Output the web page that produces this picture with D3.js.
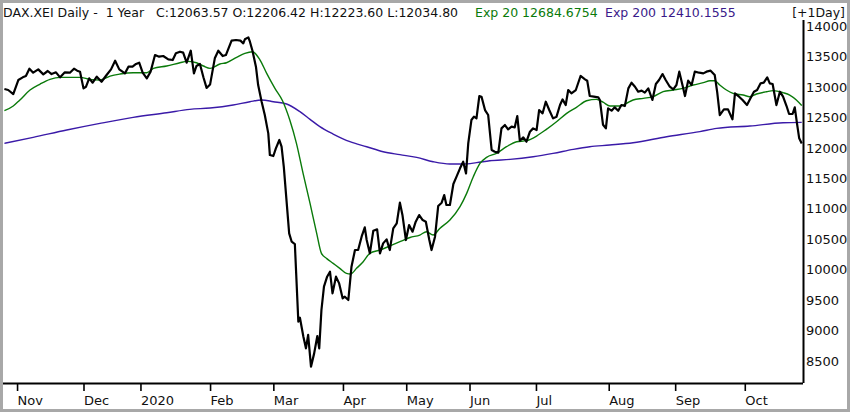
<!DOCTYPE html>
<html>
<head>
<meta charset="utf-8">
<script src="https://cdn.jsdelivr.net/npm/d3@7"></script>
<style>
  html, body { margin: 0; padding: 0; background: #fff; }
  text { font-family: "DejaVu Sans", Verdana, sans-serif; }
</style>
</head>
<body>
<div id="chart-container"></div>
<script>
// DAX daily, Oct 28 2019 - Oct 27 2020, x = trading day index

// close: [trading day, value]
const closeData = [
  [0,12957],[1.2,12941],[2.8,12875],[4.4,13105],[5.8,13149],[6.8,13170],[7.9,13291],[9.1,13225],
  [10.7,13280],[12.3,13198],[13.7,13253],[14.9,13203],[16.3,13231],[17.6,13149],[19.1,13231],[20.7,13225],
  [22,13291],[23,13258],[23.9,13242],[25,12968],[25.8,12995],[26.8,13132],[27.9,13061],[29.2,13160],
  [30.7,13077],[32.3,13187],[33.7,13280],[35,13422],[36.3,13280],[38.1,13214],[39.2,13324],[40.5,13324],
  [41.6,13368],[42.6,13389],[43.7,13225],[45,13132],[46.2,13242],[47.6,13515],[48.9,13488],[50.2,13499],
  [51.8,13444],[53.2,13433],[54.2,13543],[55.5,13570],[56.5,13554],[57.6,13389],[58.9,13586],[59.9,13214],
  [60.7,13335],[61.8,13368],[62.9,13150],[63.9,12975],[65,13030],[66.5,13461],[67.6,13586],[69,13499],
  [70,13515],[71.8,13751],[73.2,13762],[74.6,13751],[75.5,13707],[76,13773],[77.1,13805],[77.6,13734],
  [78.4,13586],[79.5,13324],[80.2,13023],[81.3,12749],[82.3,12530],[83.4,12229],[83.9,11873],[85,11857],
  [85.8,11983],[86.9,12120],[87.6,12010],[88.3,11682],[90,10587],[90.8,10450],[91.8,10412],[92.9,9137],
  [93.4,9203],[94.5,8891],[95.3,8700],[96,8920],[96.9,8398],[97.9,8617],[98.9,8902],[99.5,8699],
  [100.2,9329],[101,9712],[102,9876],[102.9,9958],[103.7,9602],[104.8,9876],[105.8,9766],[106.9,9520],
  [107.6,9547],[108.7,9493],[109.7,10040],[110.8,10314],[111.8,10314],[112.9,10533],[113.9,10686],[114.5,10478],
  [115.5,10259],[116.6,10631],[117.8,10653],[118.7,10259],[119.7,10423],[120.8,10489],[121.8,10314],[122.9,10669],
  [124,10751],[125,11091],[125.8,10890],[126.9,10478],[127.9,10724],[129,10615],[130,10779],[131.1,10888],
  [132.2,10806],[133.2,10779],[134.3,10478],[135,10314],[136.1,10533],[137.1,11036],[138.2,11091],[139,11217],
  [139.7,11053],[140.8,11053],[141.9,11397],[142.9,11518],[144,11655],[145,11764],[145.9,11572],[146.6,12065],
  [147.6,12448],[148.4,12503],[149.2,12475],[150.1,12842],[150.8,12831],[151.9,12612],[152.9,12530],[154,11956],
  [155,11928],[156.1,11912],[157.1,12311],[158.2,12366],[159.2,12295],[160.3,12339],[161.3,12328],[162.1,12514],
  [162.9,12109],[164,12163],[165,12092],[166.1,12257],[167.1,12311],[168.2,12284],[169,12612],[170.1,12558],
  [171.1,12749],[172.2,12612],[173.4,12475],[174.5,12503],[175.6,12694],[176.4,12787],[177.4,12694],[178.2,12941],
  [179.2,12886],[180.6,12941],[182.1,13171],[183.5,13116],[184.2,13094],[185,12842],[186.3,12831],[187.7,12820],
  [188.2,12777],[189.2,12370],[190.1,12311],[190.8,12640],[191.9,12601],[192.9,12656],[194,12601],[195,12694],
  [196.1,12678],[197.2,12968],[198.2,13061],[199.3,12995],[200.3,12913],[201.4,12930],[202.4,12897],[203.5,12968],
  [204.8,12777],[205.9,13039],[206.9,13105],[208,13203],[209,13105],[210.3,12995],[211.4,12952],[212.4,13023],
  [213.3,13242],[214.3,13023],[215.1,12842],[216.1,13094],[217.2,13023],[218.2,13242],[219.6,13225],[220.9,13214],
  [221.9,13242],[223.2,13258],[224.5,13187],[225.3,12897],[226.1,12530],[227.4,12623],[228.7,12623],[230.1,12459],
  [230.9,12886],[232.2,12831],[233.3,12777],[234.7,12694],[235.8,12804],[236.9,12913],[237.9,12941],[239,13050],
  [240,13061],[241.1,13149],[241.9,13050],[242.8,13039],[244,12694],[245.1,12913],[246.1,12831],[247.2,12678],
  [248,12547],[249.1,12547],[249.8,12656],[250.5,12393],[251.2,12147],[252,12064]
];

// Exp 20 (green)
const exp20Data = [
  [0,12601],[2.8,12678],[4.9,12777],[8.1,12941],[11.3,13039],[14.4,13116],[17.6,13149],[23.9,13149],
  [27,13116],[30.2,13105],[33.4,13170],[36.5,13203],[40.7,13225],[45,13225],[47.1,13296],[51.3,13335],
  [55.5,13389],[57.6,13411],[60.7,13389],[62.9,13335],[65,13296],[68.1,13368],[70.2,13389],[73.4,13477],
  [76,13543],[78.4,13570],[80.8,13433],[82.9,13214],[85.5,12968],[87.9,12765],[90.2,12448],[92.3,12065],
  [94.4,11572],[96.6,11080],[98.7,10587],[100.2,10259],[101.8,10177],[103.9,10095],[106,10013],[108.1,9930],
  [109.4,9920],[111.3,10013],[113.4,10122],[115.5,10259],[118.7,10314],[121.8,10379],[125,10450],[128.2,10520],
  [131.3,10560],[133.4,10615],[135.5,10560],[137.6,10669],[140.8,10806],[144,11025],[146.1,11244],[148.2,11518],
  [150.3,11737],[152.4,11835],[155.5,11901],[158.7,12010],[161.9,12092],[165,12109],[168.2,12185],[171.3,12295],
  [174.5,12421],[177.7,12558],[180.8,12656],[184,12765],[187.1,12787],[189.2,12740],[191.4,12678],[194.5,12678],
  [196.6,12722],[198.7,12777],[201.9,12804],[205,12831],[208.2,12913],[211.4,12941],[214.5,12968],[217.7,13023],
  [220.9,13061],[223,13094],[224.5,13094],[226.1,13023],[228.2,12941],[230.3,12886],[233.5,12858],[235.6,12831],
  [237.7,12875],[240.9,12913],[243,12930],[246.1,12897],[248.2,12858],[250.3,12777],[252,12685]
];

// Exp 200 (purple)
const exp200Data = [
  [0,12065],[9.1,12163],[19.7,12284],[30.2,12393],[40.7,12492],[51.3,12568],[58.6,12623],[65,12645],
  [72.3,12694],[77.6,12749],[81.3,12777],[85,12749],[89.2,12711],[93.4,12585],[96.6,12459],[99.7,12339],
  [103.9,12218],[109.2,12092],[114.5,12010],[119.7,11928],[125,11880],[130.3,11835],[135.5,11764],[140.8,11726],
  [145,11726],[149.2,11748],[153.4,11780],[159.8,11802],[167.1,11846],[173.4,11901],[179.8,11967],[185,12010],
  [191.3,12038],[198.7,12076],[209.3,12174],[219.8,12257],[225.1,12311],[235.6,12350],[246.1,12404],[252,12410]
];

// month ticks: first trading day of each month
const monthDays = [4, 25, 43, 65, 85, 107, 127, 147, 168, 191, 212, 234];
const monthLabels = ["Nov", "Dec", "2020", "Feb", "Mar", "Apr", "May", "Jun", "Jul", "Aug", "Sep", "Oct"];
const priceTicks = [14000, 13500, 13000, 12500, 12000, 11500, 11000, 10500, 10000, 9500, 9000, 8500];

const W = 850, H = 412;
const plot = {left: 3, right: 803, top: 20, bottom: 383};

const svg = d3.select("#chart-container")
    .append("svg")
        .attr("width", W)
        .attr("height", H);

svg.append("rect")
    .attr("width", W).attr("height", H)
    .attr("fill", "#fff");

// scales
const xScale = d3.scaleLinear()
    .domain([0, 252.4])
    .range([4.4, plot.right]);
const yScale = d3.scaleLinear()
    .domain([8500, 14000])
    .range([360.5, 25.5]);

svg.append("clipPath").attr("id", "clip")
  .append("rect")
    .attr("x", plot.left).attr("y", plot.top)
    .attr("width", plot.right - plot.left).attr("height", plot.bottom - plot.top);

const line = d3.line()
    .x(d => xScale(d[0]))
    .y(d => yScale(d[1]));
const smooth = d3.line()
    .x(d => xScale(d[0]))
    .y(d => yScale(d[1]))
    .curve(d3.curveMonotoneX);

const lines = svg.append("g").attr("clip-path", "url(#clip)");
lines.append("path")
    .datum(exp200Data)
    .attr("fill", "none")
    .attr("stroke", "#3a1aa8")
    .attr("stroke-width", 1.4)
    .attr("d", smooth);
lines.append("path")
    .datum(exp20Data)
    .attr("fill", "none")
    .attr("stroke", "#0a7a0a")
    .attr("stroke-width", 1.4)
    .attr("d", smooth);
lines.append("path")
    .datum(closeData)
    .attr("fill", "none")
    .attr("stroke", "#000")
    .attr("stroke-width", 2.2)
    .attr("stroke-linejoin", "round")
    .attr("d", line);

// x axis
const xAxis = d3.axisBottom(xScale)
    .tickValues(monthDays)
    .tickFormat((d, i) => monthLabels[i])
    .tickSize(8)
    .tickSizeOuter(0);
const gx = svg.append("g")
    .attr("transform", `translate(0, ${plot.bottom})`)
    .call(xAxis);
gx.select(".domain")
    .attr("d", `M${plot.left},0.5H${plot.right}`)
    .attr("stroke", "#000").attr("stroke-width", 2);
gx.selectAll(".tick line").attr("stroke", "#000").attr("stroke-width", 1.6);
gx.selectAll(".tick text")
    .attr("y", 22).attr("dy", 0)
    .attr("x", 0)
    .style("text-anchor", "start")
    .style("font-family", "'DejaVu Sans', sans-serif")
    .style("font-size", "13px")
    .attr("fill", "#111");

// y axis on the right, labels only
const yAxis = d3.axisRight(yScale)
    .tickValues(priceTicks)
    .tickFormat(d3.format("d"))
    .tickSize(0)
    .tickPadding(3);
const gy = svg.append("g")
    .attr("transform", `translate(${plot.right}, 0)`)
    .call(yAxis);
gy.select(".domain")
    .attr("d", `M0.5,${plot.top}V${plot.bottom}`)
    .attr("stroke", "#000").attr("stroke-width", 2);
gy.selectAll(".tick text")
    .attr("dy", "0.36em")
    .attr("y", 0)
    .style("font-family", "'DejaVu Sans', sans-serif")
    .style("font-size", "13px")
    .attr("fill", "#111");

// header
const header = svg.append("text")
    .attr("x", 3).attr("y", 17)
    .style("font-size", "12.5px")
    .style("white-space", "pre");
header.append("tspan").attr("fill", "#111")
    .text("DAX.XEI Daily -  1 Year   C:12063.57 O:12206.42 H:12223.60 L:12034.80");
header.append("tspan").attr("fill", "#0a7a0a").attr("x", 475)
    .text("Exp 20 12684.6754");
header.append("tspan").attr("fill", "#3a1a8a").attr("x", 605)
    .text("Exp 200 12410.1555");
svg.append("text")
    .attr("x", 845).attr("y", 17)
    .style("text-anchor", "end")
    .style("font-size", "12.5px")
    .attr("fill", "#111")
    .text("[+1Day]");

// frame
svg.append("rect")
    .attr("x", 1.5).attr("y", 1.5)
    .attr("width", W - 3).attr("height", H - 3)
    .attr("fill", "none")
    .attr("stroke", "#a8a8a8")
    .attr("stroke-width", 3);
</script>
</body>
</html>
